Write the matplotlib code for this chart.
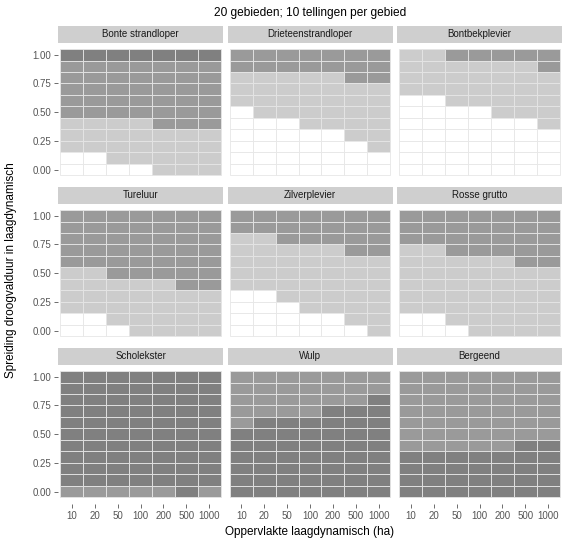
import matplotlib
matplotlib.use("Agg")
import matplotlib.pyplot as plt
import numpy as np

plt.rcParams['font.family'] = ['Liberation Sans', 'DejaVu Sans']

title = "20 gebieden; 10 tellingen per gebied"
x_labels = ["10", "20", "50", "100", "200", "500", "1000"]
y_values = [1.0, 0.9, 0.8, 0.7, 0.6, 0.5, 0.4, 0.3, 0.2, 0.1, 0.0]
species = ["Bonte strandloper", "Drieteenstrandloper", "Bontbekplevier",
           "Tureluur", "Zilverplevier", "Rosse grutto",
           "Scholekster", "Wulp", "Bergeend"]

# class per tile: 0 white, 1 light, 2 medium, 3 dark ; rows from y=1.0 down to y=0.0
bonte_strandloper = [
    [3, 3, 3, 3, 3, 3, 3],
    [2, 2, 2, 2, 2, 2, 2],
    [2, 2, 2, 2, 2, 2, 2],
    [2, 2, 2, 2, 2, 2, 2],
    [2, 2, 2, 2, 2, 2, 2],
    [2, 2, 2, 2, 2, 2, 2],
    [1, 1, 1, 1, 2, 2, 2],
    [1, 1, 1, 1, 1, 1, 1],
    [1, 1, 1, 1, 1, 1, 1],
    [0, 0, 1, 1, 1, 1, 1],
    [0, 0, 0, 0, 1, 1, 1],
]
drieteenstrandloper = [
    [2, 2, 2, 2, 2, 2, 2],
    [2, 2, 2, 2, 2, 2, 2],
    [1, 1, 1, 1, 1, 2, 2],
    [1, 1, 1, 1, 1, 1, 1],
    [1, 1, 1, 1, 1, 1, 1],
    [0, 1, 1, 1, 1, 1, 1],
    [0, 0, 0, 1, 1, 1, 1],
    [0, 0, 0, 0, 0, 1, 1],
    [0, 0, 0, 0, 0, 0, 1],
    [0, 0, 0, 0, 0, 0, 0],
    [0, 0, 0, 0, 0, 0, 0],
]
bontbekplevier = [
    [1, 1, 2, 2, 2, 2, 2],
    [1, 1, 1, 1, 1, 1, 2],
    [1, 1, 1, 1, 1, 1, 1],
    [1, 1, 1, 1, 1, 1, 1],
    [0, 0, 1, 1, 1, 1, 1],
    [0, 0, 0, 0, 1, 1, 1],
    [0, 0, 0, 0, 0, 0, 1],
    [0, 0, 0, 0, 0, 0, 0],
    [0, 0, 0, 0, 0, 0, 0],
    [0, 0, 0, 0, 0, 0, 0],
    [0, 0, 0, 0, 0, 0, 0],
]
tureluur = [
    [2, 2, 2, 2, 2, 2, 2],
    [2, 2, 2, 2, 2, 2, 2],
    [2, 2, 2, 2, 2, 2, 2],
    [2, 2, 2, 2, 2, 2, 2],
    [2, 2, 2, 2, 2, 2, 2],
    [1, 1, 2, 2, 2, 2, 2],
    [1, 1, 1, 1, 1, 2, 2],
    [1, 1, 1, 1, 1, 1, 1],
    [1, 1, 1, 1, 1, 1, 1],
    [0, 0, 1, 1, 1, 1, 1],
    [0, 0, 0, 1, 1, 1, 1],
]
zilverplevier = [
    [2, 2, 2, 2, 2, 2, 2],
    [2, 2, 2, 2, 2, 2, 2],
    [1, 1, 2, 2, 2, 2, 2],
    [1, 1, 1, 1, 1, 2, 2],
    [1, 1, 1, 1, 1, 1, 1],
    [1, 1, 1, 1, 1, 1, 1],
    [1, 1, 1, 1, 1, 1, 1],
    [0, 0, 1, 1, 1, 1, 1],
    [0, 0, 0, 1, 1, 1, 1],
    [0, 0, 0, 0, 0, 1, 1],
    [0, 0, 0, 0, 0, 0, 1],
]
rosse_grutto = [
    [2, 2, 2, 2, 2, 2, 2],
    [2, 2, 2, 2, 2, 2, 2],
    [2, 2, 2, 2, 2, 2, 2],
    [1, 1, 2, 2, 2, 2, 2],
    [1, 1, 1, 1, 1, 2, 2],
    [1, 1, 1, 1, 1, 1, 1],
    [1, 1, 1, 1, 1, 1, 1],
    [1, 1, 1, 1, 1, 1, 1],
    [1, 1, 1, 1, 1, 1, 1],
    [0, 0, 1, 1, 1, 1, 1],
    [0, 0, 0, 1, 1, 1, 1],
]
scholekster = [
    [3, 3, 3, 3, 3, 3, 3],
    [3, 3, 3, 3, 3, 3, 3],
    [3, 3, 3, 3, 3, 3, 3],
    [3, 3, 3, 3, 3, 3, 3],
    [3, 3, 3, 3, 3, 3, 3],
    [3, 3, 3, 3, 3, 3, 3],
    [3, 3, 3, 3, 3, 3, 3],
    [3, 3, 3, 3, 3, 3, 3],
    [3, 3, 3, 3, 3, 3, 3],
    [3, 3, 3, 3, 3, 3, 3],
    [2, 2, 2, 2, 2, 3, 2],
]
wulp = [
    [2, 2, 2, 2, 2, 2, 2],
    [2, 2, 2, 2, 2, 2, 2],
    [2, 2, 2, 2, 2, 2, 3],
    [2, 2, 2, 2, 3, 3, 3],
    [2, 3, 3, 3, 3, 3, 3],
    [3, 3, 3, 3, 3, 3, 3],
    [3, 3, 3, 3, 3, 3, 3],
    [3, 3, 3, 3, 3, 3, 3],
    [3, 3, 3, 3, 3, 3, 3],
    [3, 3, 3, 3, 3, 3, 3],
    [3, 3, 3, 3, 3, 3, 3],
]
bergeend = [
    [2, 2, 2, 2, 2, 2, 2],
    [2, 2, 2, 2, 2, 2, 2],
    [2, 2, 2, 2, 2, 2, 2],
    [2, 2, 2, 2, 2, 2, 2],
    [2, 2, 2, 2, 2, 2, 2],
    [2, 2, 2, 2, 2, 2, 2],
    [2, 2, 2, 2, 2, 3, 3],
    [3, 3, 3, 3, 3, 3, 3],
    [3, 3, 3, 3, 3, 3, 3],
    [3, 3, 3, 3, 3, 3, 3],
    [3, 3, 3, 3, 3, 3, 3],
]
panels = [bonte_strandloper, drieteenstrandloper, bontbekplevier,
          tureluur, zilverplevier, rosse_grutto,
          scholekster, wulp, bergeend]

class_colors = ['#FFFFFF', '#CCCCCC', '#9A9A9A', '#808080']

W, H = 569, 543
fig = plt.figure(figsize=(W / 100, H / 100), dpi=100)

left0, col_step, pw = 58, 169.5, 165
tops = [42.7, 203.7, 364.7]
ph = 139
strip_h = 16.5

for i, (name, grid) in enumerate(zip(species, panels)):
    r, c = divmod(i, 3)
    x0 = left0 + c * col_step
    y_top = tops[r]
    ax = fig.add_axes([x0 / W, 1 - (y_top + ph) / H, pw / W, ph / H])
    xs, ys, cols = [], [], []
    for ri, yv in enumerate(y_values):
        for ci in range(len(x_labels)):
            xs.append(ci)
            ys.append(yv)
            cols.append(class_colors[grid[ri][ci]])
    ax.bar(xs, [0.1] * len(xs), bottom=np.array(ys) - 0.05, width=1.0,
           color=cols, edgecolor='#E6E6E6', linewidth=0.6)
    ax.set_xlim(-0.6, 6.6)
    ax.set_ylim(-0.105, 1.105)
    for s in ax.spines.values():
        s.set_visible(False)
    ax.set_xticks(range(len(x_labels)))
    ax.set_yticks([0, 0.25, 0.5, 0.75, 1.0])
    ax.tick_params(axis='both', length=3, width=0.6, color='#555555',
                   labelsize=7, labelcolor='#555555', pad=2)
    if r == 2:
        ax.set_xticklabels(x_labels)
    else:
        ax.set_xticklabels([])
        ax.tick_params(axis='x', length=0)
    if c == 0:
        ax.set_yticklabels(["0.00", "0.25", "0.50", "0.75", "1.00"])
    else:
        ax.set_yticklabels([])
        ax.tick_params(axis='y', length=0)
    # strip
    sax = fig.add_axes([x0 / W, 1 - y_top / H, pw / W, strip_h / H])
    sax.set_facecolor('#CFCFCF')
    sax.set_xticks([])
    sax.set_yticks([])
    for s in sax.spines.values():
        s.set_visible(False)
    sax.text(0.5, 0.5, name, ha='center', va='center', fontsize=7,
             color='#1A1A1A', transform=sax.transAxes)

fig.text(310 / W, 1 - 13 / H, title, ha='center', va='center', fontsize=8.6, color='#000000')
fig.text(310 / W, 1 - 532 / H, "Oppervlakte laagdynamisch (ha)", ha='center', va='center',
         fontsize=8.5, color='#000000')
fig.text(11 / W, 1 - 270 / H, "Spreiding droogvalduur in laagdynamisch", ha='center',
         va='center', rotation=90, fontsize=8.5, color='#000000')

fig.savefig("out.png", dpi=100, facecolor='white')
